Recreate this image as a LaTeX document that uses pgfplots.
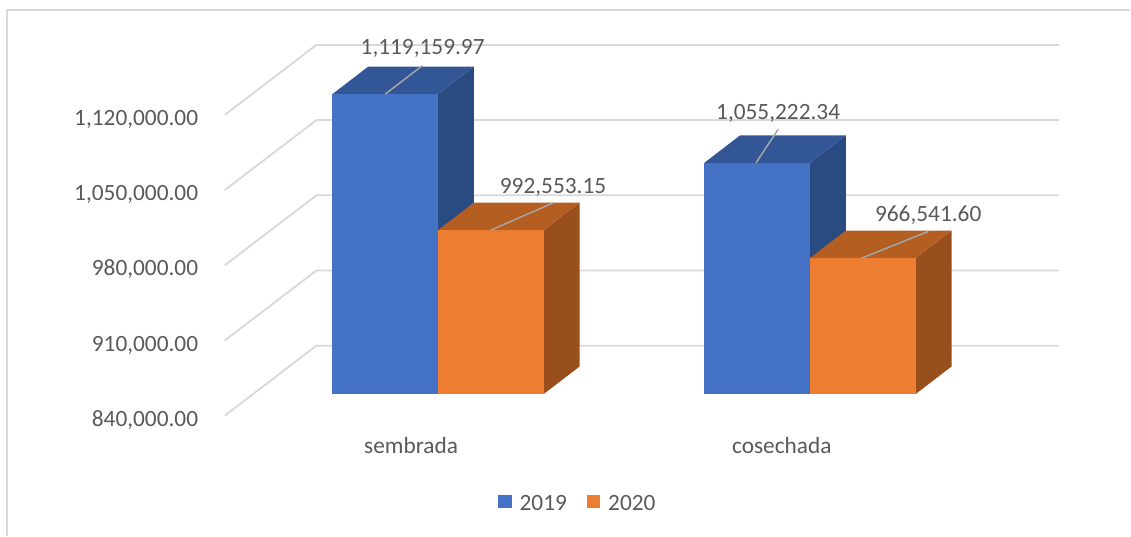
\documentclass[border=0pt]{standalone}
\usepackage{fontspec}
\setmainfont{Carlito}
\usepackage{pgfplots}
\pgfplotsset{compat=1.18}
\definecolor{bfront}{HTML}{4472C4}
\definecolor{btop}{HTML}{335696}
\definecolor{bside}{HTML}{2A4A82}
\definecolor{ofront}{HTML}{ED7D31}
\definecolor{otop}{HTML}{B45E22}
\definecolor{oside}{HTML}{984F1D}
\definecolor{gridc}{HTML}{D9D9D9}
\definecolor{lead}{HTML}{A6A6A6}
\definecolor{txt}{HTML}{595959}
\newcommand{\lblfont}{\fontsize{17.5}{21}\selectfont}
\tikzset{lbl/.style={font=\lblfont, text=txt, anchor=base}}
\begin{document}
\begin{tikzpicture}
\begin{axis}[
  scale only axis, width=848.25pt, height=402pt,
  xmin=0, xmax=1131, ymin=708186, ymax=1206790,
  clip=false,
  axis line style={draw=none},
  major tick length=0pt,
  tick style={draw=none},
  scaled y ticks=false,
  ytick={840000,910000,980000,1050000,1120000},
  yticklabel style={font=\lblfont, text=txt, anchor=base east, inner sep=0pt,
    xshift=148.9pt, yshift=-24.3pt,
    /pgf/number format/.cd, fixed, fixed zerofill, precision=2, 1000 sep={,}, assume math mode=true},
  xtick={411.5,782.5}, xticklabels={sembrada,cosechada},
  xticklabel style={font=\lblfont, text=txt, anchor=base, inner sep=0pt, yshift=61.3pt},
  legend columns=2,
  legend style={draw=none, fill=none, font=\lblfont, text=txt,
    at={(rel axis cs:0.5117,0.0597)}, anchor=center,
    /tikz/every even column/.append style={column sep=13pt}},
  face/.style={draw=none, forget plot},
  gl/.style={gridc, line width=1.4pt, forget plot},
  ld/.style={lead, line width=1.1pt, forget plot},
]
\addlegendimage{legend image code/.code={\fill[bfront, draw=none] (0pt,-3.7pt) rectangle (10pt,6.3pt); \path[draw=none, fill=none] (0pt,0pt) -- (14pt,0pt);}}
\addlegendentry{2019}
\addlegendimage{legend image code/.code={\fill[ofront, draw=none] (0pt,-3.7pt) rectangle (10pt,6.3pt); \path[draw=none, fill=none] (0pt,0pt) -- (14pt,0pt);}}
\addlegendentry{2020}

% frame
\draw[gridc, line width=1.5pt] (rel axis cs:0.00592,0) -- (rel axis cs:0.00592,0.98134) -- (rel axis cs:1,0.98134);

% walls and gridlines
\addplot[gl] coordinates {(225,819814) (316.7,884930) (1060,884930)};
\addplot[gl] coordinates {(225,889814) (316.7,954930) (1060,954930)};
\addplot[gl] coordinates {(225,959814) (316.7,1024930) (1060,1024930)};
\addplot[gl] coordinates {(225,1029814) (316.7,1094930) (1060,1094930)};
\addplot[gl] coordinates {(225,1099814) (316.7,1164930) (1060,1164930)};

% sembrada 2019
\addplot[face, fill=bside] coordinates {(438.5,840000) (474.3,865581) (474.3,1144740.97) (438.5,1119159.97)} -- cycle;
\addplot[face, fill=btop] coordinates {(332.7,1119159.97) (438.5,1119159.97) (474.3,1144740.97) (368.5,1144740.97)} -- cycle;
\addplot[face, fill=bfront] coordinates {(332.7,840000) (438.5,840000) (438.5,1119159.97) (332.7,1119159.97)} -- cycle;
% sembrada 2020
\addplot[face, fill=oside] coordinates {(544.3,840000) (580.1,865581) (580.1,1018134.15) (544.3,992553.15)} -- cycle;
\addplot[face, fill=otop] coordinates {(438.5,992553.15) (544.3,992553.15) (580.1,1018134.15) (474.3,1018134.15)} -- cycle;
\addplot[face, fill=ofront] coordinates {(438.5,840000) (544.3,840000) (544.3,992553.15) (438.5,992553.15)} -- cycle;
% cosechada 2019
\addplot[face, fill=bside] coordinates {(810.8,840000) (846.6,865581) (846.6,1080803.34) (810.8,1055222.34)} -- cycle;
\addplot[face, fill=btop] coordinates {(705.0,1055222.34) (810.8,1055222.34) (846.6,1080803.34) (740.8,1080803.34)} -- cycle;
\addplot[face, fill=bfront] coordinates {(705.0,840000) (810.8,840000) (810.8,1055222.34) (705.0,1055222.34)} -- cycle;
% cosechada 2020
\addplot[face, fill=oside] coordinates {(916.6,840000) (952.4,865581) (952.4,992122.60) (916.6,966541.60)} -- cycle;
\addplot[face, fill=otop] coordinates {(810.8,966541.60) (916.6,966541.60) (952.4,992122.60) (846.6,992122.60)} -- cycle;
\addplot[face, fill=ofront] coordinates {(810.8,840000) (916.6,840000) (916.6,966541.60) (810.8,966541.60)} -- cycle;

% leader lines
\addplot[ld] coordinates {(385.6,1119159.97) (422.7,1145674)};
\addplot[ld] coordinates {(491.4,992553.15) (554.3,1018134)};
\addplot[ld] coordinates {(756.7,1055222.34) (779,1086511)};
\addplot[ld] coordinates {(862.7,966541.60) (929,991255)};

% data labels
\node[lbl] at (axis cs:423,1155627) {1,119,159.97};
\node[lbl] at (axis cs:553.5,1026976) {992,553.15};
\node[lbl] at (axis cs:778.8,1095162) {1,055,222.34};
\node[lbl] at (axis cs:929,1000558) {966,541.60};
\end{axis}
\end{tikzpicture}
\end{document}
